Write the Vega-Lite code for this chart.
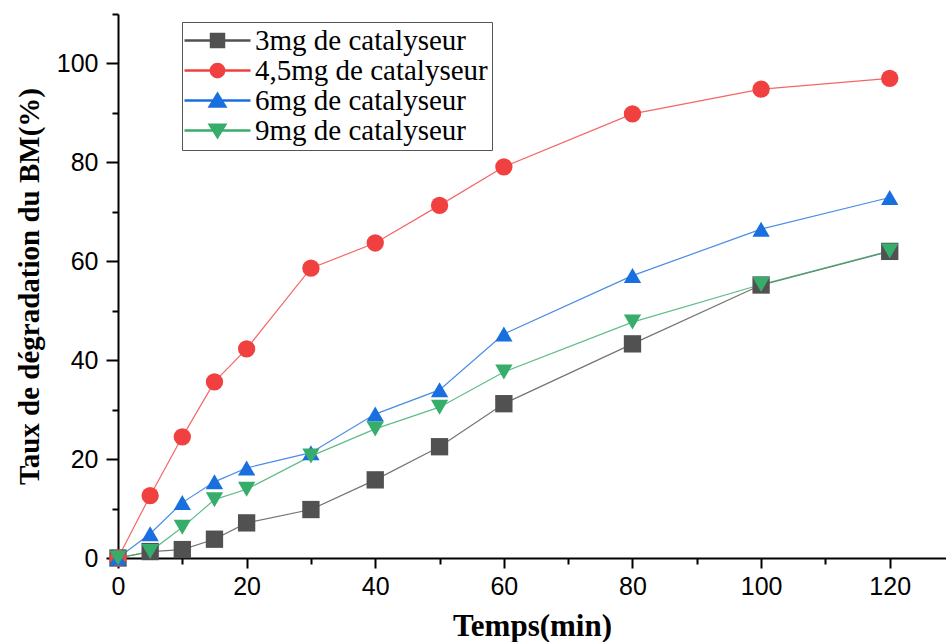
{
  "$schema": "https://vega.github.io/schema/vega-lite/v6.json",
  "width": 828,
  "height": 544,
  "autosize": "none",
  "padding": {"left": 118, "top": 14, "right": 0, "bottom": 84},
  "background": "white",
  "config": {"view": {"stroke": null}, "axis": {"grid": false}},
  "data": {
    "values": [
      {"serie": "3mg de catalyseur", "t": 0, "y": 0},
      {"serie": "3mg de catalyseur", "t": 5, "y": 1.3},
      {"serie": "3mg de catalyseur", "t": 10, "y": 1.7},
      {"serie": "3mg de catalyseur", "t": 15, "y": 3.8},
      {"serie": "3mg de catalyseur", "t": 20, "y": 7.1},
      {"serie": "3mg de catalyseur", "t": 30, "y": 9.8},
      {"serie": "3mg de catalyseur", "t": 40, "y": 15.8},
      {"serie": "3mg de catalyseur", "t": 50, "y": 22.5},
      {"serie": "3mg de catalyseur", "t": 60, "y": 31.2},
      {"serie": "3mg de catalyseur", "t": 80, "y": 43.3},
      {"serie": "3mg de catalyseur", "t": 100, "y": 55.2},
      {"serie": "3mg de catalyseur", "t": 120, "y": 62.0},
      {"serie": "4,5mg de catalyseur", "t": 0, "y": 0},
      {"serie": "4,5mg de catalyseur", "t": 5, "y": 12.6},
      {"serie": "4,5mg de catalyseur", "t": 10, "y": 24.5},
      {"serie": "4,5mg de catalyseur", "t": 15, "y": 35.6},
      {"serie": "4,5mg de catalyseur", "t": 20, "y": 42.3},
      {"serie": "4,5mg de catalyseur", "t": 30, "y": 58.6},
      {"serie": "4,5mg de catalyseur", "t": 40, "y": 63.7},
      {"serie": "4,5mg de catalyseur", "t": 50, "y": 71.3},
      {"serie": "4,5mg de catalyseur", "t": 60, "y": 79.1},
      {"serie": "4,5mg de catalyseur", "t": 80, "y": 89.8},
      {"serie": "4,5mg de catalyseur", "t": 100, "y": 94.8},
      {"serie": "4,5mg de catalyseur", "t": 120, "y": 97.0},
      {"serie": "6mg de catalyseur", "t": 0, "y": 0},
      {"serie": "6mg de catalyseur", "t": 5, "y": 4.9},
      {"serie": "6mg de catalyseur", "t": 10, "y": 11.2},
      {"serie": "6mg de catalyseur", "t": 15, "y": 15.4},
      {"serie": "6mg de catalyseur", "t": 20, "y": 18.2},
      {"serie": "6mg de catalyseur", "t": 30, "y": 21.3},
      {"serie": "6mg de catalyseur", "t": 40, "y": 29.1},
      {"serie": "6mg de catalyseur", "t": 50, "y": 34.0},
      {"serie": "6mg de catalyseur", "t": 60, "y": 45.3},
      {"serie": "6mg de catalyseur", "t": 80, "y": 57.1},
      {"serie": "6mg de catalyseur", "t": 100, "y": 66.5},
      {"serie": "6mg de catalyseur", "t": 120, "y": 72.9},
      {"serie": "9mg de catalyseur", "t": 0, "y": 0},
      {"serie": "9mg de catalyseur", "t": 5, "y": 1.3},
      {"serie": "9mg de catalyseur", "t": 10, "y": 6.2},
      {"serie": "9mg de catalyseur", "t": 15, "y": 11.8},
      {"serie": "9mg de catalyseur", "t": 20, "y": 13.9},
      {"serie": "9mg de catalyseur", "t": 30, "y": 20.6},
      {"serie": "9mg de catalyseur", "t": 40, "y": 26.1},
      {"serie": "9mg de catalyseur", "t": 50, "y": 30.5},
      {"serie": "9mg de catalyseur", "t": 60, "y": 37.6},
      {"serie": "9mg de catalyseur", "t": 80, "y": 47.7},
      {"serie": "9mg de catalyseur", "t": 100, "y": 55.3},
      {"serie": "9mg de catalyseur", "t": 120, "y": 62.1}
    ]
  },
  "encoding": {
    "x": {
      "field": "t", "type": "quantitative",
      "scale": {"domain": [0, 128.75], "nice": false, "zero": false},
      "axis": {
        "title": "Temps(min)",
        "titleFont": "Liberation Serif", "titleFontSize": 31, "titleFontWeight": "bold", "titleColor": "black",
        "titlePadding": 12,
        "values": [0, 10, 20, 30, 40, 50, 60, 70, 80, 90, 100, 110, 120],
        "labelExpr": "datum.value % 20 == 0 ? datum.label : ''",
        "labelFont": "Liberation Sans", "labelFontSize": 25, "labelColor": "black", "labelPadding": 6,
        "labelOverlap": false, "labelFlush": false,
        "domainColor": "black", "domainWidth": 2,
        "tickColor": "black", "tickWidth": 2,
        "tickSize": {"condition": {"test": "datum.value % 20 != 0", "value": 6}, "value": 10}
      }
    },
    "y": {
      "field": "y", "type": "quantitative",
      "scale": {"domain": [0, 110], "nice": false},
      "axis": {
        "title": "Taux de dégradation du BM(%)",
        "titleFont": "Liberation Serif", "titleFontSize": 29, "titleFontWeight": "bold", "titleColor": "black",
        "titlePadding": 12,
        "values": [0, 10, 20, 30, 40, 50, 60, 70, 80, 90, 100, 110],
        "labelExpr": "datum.value % 20 == 0 && datum.value <= 100 ? datum.label : ''",
        "labelFont": "Liberation Sans", "labelFontSize": 25, "labelColor": "black", "labelPadding": 8,
        "labelOverlap": false, "labelFlush": false,
        "domainColor": "black", "domainWidth": 2,
        "tickColor": "black", "tickWidth": 2,
        "tickSize": {"condition": {"test": "datum.value % 20 != 0", "value": 6}, "value": 12}
      }
    }
  },
  "layer": [
    {
      "mark": {"type": "line", "strokeWidth": 1.2, "opacity": 0.8},
      "encoding": {
        "color": {
          "field": "serie", "type": "nominal",
          "scale": {
            "domain": ["3mg de catalyseur", "4,5mg de catalyseur", "6mg de catalyseur", "9mg de catalyseur"],
            "range": ["#515151", "#F14040", "#1A6FDF", "#37AD6B"]
          }
        }
      }
    },
    {
      "mark": {"type": "point", "filled": true, "opacity": 1},
      "encoding": {
        "color": {
          "field": "serie", "type": "nominal",
          "scale": {
            "domain": ["3mg de catalyseur", "4,5mg de catalyseur", "6mg de catalyseur", "9mg de catalyseur"],
            "range": ["#515151", "#F14040", "#1A6FDF", "#37AD6B"]
          },
          "legend": {
            "orient": "none", "legendX": 64, "legendY": 8,
            "title": null,
            "labelFont": "Liberation Serif", "labelFontSize": 29, "labelColor": "black", "labelLimit": 500,
            "symbolSize": 225, "symbolOffset": 17, "labelOffset": 23,
            "padding": 4, "rowPadding": 0,
            "strokeColor": "#555555", "fillColor": "white", "cornerRadius": 0,
            "symbolOpacity": 1,
            "encode": {
              "symbols": {
                "update": {
                  "opacity": {"value": 1},
                  "shape": {"signal": "datum.value == '3mg de catalyseur' ? 'M-4.3,-0.08H4.3V0.08H-4.3Z M-0.93,-0.93H0.93V0.93H-0.93Z' : datum.value == '4,5mg de catalyseur' ? 'M-4.3,-0.08H4.3V0.08H-4.3Z M-0.95,0A0.95,0.95 0 1,1 0.95,0A0.95,0.95 0 1,1 -0.95,0Z' : datum.value == '6mg de catalyseur' ? 'M-4.3,-0.08H4.3V0.08H-4.3Z M0,-1L1.15,0.85H-1.15Z' : 'M-4.3,-0.08H4.3V0.08H-4.3Z M0,1L-1.15,-0.85H1.15Z'"}
                }
              }
            }
          }
        },
        "shape": {
          "field": "serie", "type": "nominal", "legend": null,
          "scale": {
            "domain": ["4,5mg de catalyseur", "3mg de catalyseur", "6mg de catalyseur", "9mg de catalyseur"],
            "range": ["circle", "square", "triangle-up", "triangle-down"]
          }
        },
        "size": {
          "field": "serie", "type": "nominal", "legend": null,
          "scale": {
            "domain": ["6mg de catalyseur", "9mg de catalyseur", "3mg de catalyseur", "4,5mg de catalyseur"],
            "range": [300, 300, 200, 210]
          }
        }
      }
    }
  ]
}
